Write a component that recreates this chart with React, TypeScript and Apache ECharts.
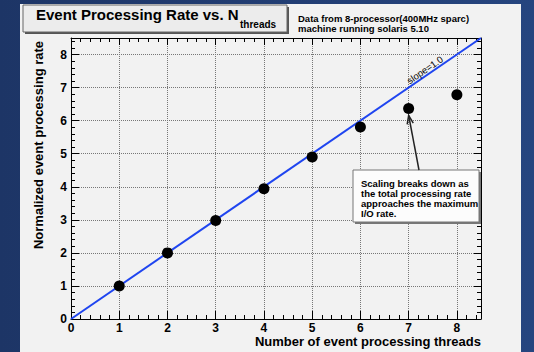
import React, { useEffect, useRef } from "react";
import * as echarts from "echarts";

const threads = [1, 2, 3, 4, 5, 6, 7, 8];
const rates = [1.0, 2.0, 2.98, 3.94, 4.9, 5.81, 6.37, 6.78];
const slopeLine = [
  [0, 0],
  [8.5, 8.5],
];
const axisMin = 0;
const axisMax = 8.5;
const majorStep = 1;
const minorStep = 0.2;
const titleMain = "Event Processing Rate vs. N";
const titleSub = "threads";
const noteLines = ["Data from 8-processor(400MHz sparc)", "machine running solaris 5.10"];
const boxLines = [
  "Scaling breaks down as",
  "the total processing rate",
  "approaches the maximum",
  "I/O rate.",
];
const xTitle = "Number of event processing threads";
const yTitle = "Normalized event processing rate";
const slopeLabel = "slope=1.0";
const annotatedThread = 7;

const FONT = "'Liberation Sans', Arial, Helvetica, sans-serif";

function makeAxis(position: string, interval: number, len: number, labels: boolean, split: boolean, line: boolean) {
  const isX = position === "top" || position === "bottom";
  return {
    type: "value",
    position,
    min: axisMin,
    max: axisMax,
    interval,
    axisLine: { show: line, onZero: false, lineStyle: { color: "#000", width: 1 } },
    axisTick: { show: true, inside: true, length: len, lineStyle: { color: "#000", width: 1 } },
    axisLabel: {
      show: labels,
      showMaxLabel: false,
      color: "#000",
      fontFamily: FONT,
      fontWeight: "bold",
      fontSize: 12,
      margin: isX ? 3 : 4,
    },
    splitLine: { show: split, lineStyle: { type: "dotted", color: "#777", width: 1 } },
  };
}

export default function App() {
  const ref = useRef<HTMLDivElement>(null);
  useEffect(() => {
    const el = ref.current!;
    const chart = echarts.init(el, null, { renderer: "svg" });
    chart.setOption({
      animation: false,
      backgroundColor: "transparent",
      grid: { left: 71, right: 53, top: 38, bottom: 33 },
      xAxis: [
        makeAxis("bottom", majorStep, 8, true, true, true),
        makeAxis("bottom", minorStep, 4, false, false, false),
        makeAxis("top", majorStep, 7, false, false, true),
        makeAxis("top", minorStep, 4, false, false, false),
      ],
      yAxis: [
        makeAxis("left", majorStep, 8, true, true, true),
        makeAxis("left", minorStep, 4, false, false, false),
        makeAxis("right", majorStep, 7, false, false, true),
        makeAxis("right", minorStep, 4, false, false, false),
      ],
      series: [
        {
          type: "line",
          data: slopeLine,
          symbol: "none",
          lineStyle: { color: "#1f45f0", width: 2 },
          z: 3,
        },
        {
          type: "scatter",
          data: threads.map((t, i) => [t, rates[i]]),
          symbol: "circle",
          symbolSize: 11,
          itemStyle: { color: "#000", opacity: 1 },
          z: 4,
        },
      ],
    });

    const px = (x: number, y: number) => chart.convertToPixel({ seriesIndex: 1 }, [x, y]) as number[];
    const idx = threads.indexOf(annotatedThread);
    const dot = px(annotatedThread, rates[idx]);
    const tip = [dot[0], dot[1] + 7];
    const tail = [419, 170];
    const dx = tip[0] - tail[0];
    const dy = tip[1] - tail[1];
    const L = Math.hypot(dx, dy);
    const ux = dx / L;
    const uy = dy / L;
    const head = (ang: number) => {
      const c = Math.cos(ang);
      const s = Math.sin(ang);
      const bx = -(ux * c - uy * s);
      const by = -(ux * s + uy * c);
      return [tip[0] + bx * 9, tip[1] + by * 9];
    };
    const h1 = head(0.35);
    const h2 = head(-0.35);

    const a = px(0, 0);
    const b = px(1, 1);
    const ang = Math.atan2(a[1] - b[1], b[0] - a[0]);
    const sp = px(7.4, 7.4);
    const nx = -Math.sin(ang);
    const ny = -Math.cos(ang);
    const slopePos = [sp[0] + nx * 5.5, sp[1] + ny * 5.5];

    const textStyle = (extra: any) => ({ fontFamily: FONT, fill: "#000", ...extra });

    chart.setOption({
      graphic: [
        { type: "rect", z: 100, shape: { x: 25, y: 7, width: 264, height: 27 }, style: { fill: "#555" } },
        {
          type: "rect",
          z: 101,
          shape: { x: 23, y: 5, width: 264, height: 27 },
          style: { fill: "#ececec", stroke: "#666", lineWidth: 1 },
        },
        {
          type: "text",
          z: 102,
          x: 36,
          y: 14,
          style: textStyle({ text: titleMain, fontSize: 15, fontWeight: "bold", textAlign: "left", textVerticalAlign: "middle" }),
        },
        {
          type: "text",
          z: 102,
          x: 240,
          y: 24,
          style: textStyle({ text: titleSub, fontSize: 10, fontWeight: "bold", textAlign: "left", textVerticalAlign: "middle" }),
        },
        ...noteLines.map((t, i) => ({
          type: "text",
          z: 102,
          x: 298,
          y: 18 + i * 10,
          style: textStyle({ text: t, fontSize: 9.5, fontWeight: "bold", textAlign: "left", textVerticalAlign: "middle" }),
        })),
        {
          type: "text",
          z: 102,
          x: 38,
          y: 145,
          rotation: Math.PI / 2,
          style: textStyle({ text: yTitle, fontSize: 13, fontWeight: "bold", textAlign: "center", textVerticalAlign: "middle" }),
        },
        {
          type: "text",
          z: 102,
          x: 481,
          y: 341,
          style: textStyle({ text: xTitle, fontSize: 13, fontWeight: "bold", textAlign: "right", textVerticalAlign: "middle" }),
        },
        {
          type: "text",
          z: 102,
          x: slopePos[0],
          y: slopePos[1],
          rotation: ang,
          style: textStyle({ text: slopeLabel, fontSize: 9.5, textAlign: "center", textVerticalAlign: "middle" }),
        },
        { type: "rect", z: 100, shape: { x: 355, y: 172, width: 126, height: 52 }, style: { fill: "#777" } },
        {
          type: "rect",
          z: 101,
          shape: { x: 353, y: 170, width: 126, height: 52 },
          style: { fill: "#fcfcfc", stroke: "#777", lineWidth: 1 },
        },
        ...boxLines.map((t, i) => ({
          type: "text",
          z: 102,
          x: 361,
          y: 183 + i * 10,
          style: textStyle({ text: t, fontSize: 9.5, fontWeight: "bold", textAlign: "left", textVerticalAlign: "middle" }),
        })),
        {
          type: "line",
          z: 102,
          shape: { x1: tail[0], y1: tail[1], x2: tip[0], y2: tip[1] },
          style: { stroke: "#222", lineWidth: 1.5 },
        },
        {
          type: "polyline",
          z: 102,
          shape: { points: [h1, tip, h2] },
          style: { stroke: "#222", lineWidth: 1.5, fill: null },
        },
      ],
    });
    return () => chart.dispose();
  }, []);

  return (
    <div style={{ position: "fixed", left: 0, top: 0, width: 534, height: 352, background: "linear-gradient(90deg, #1d3566 0%, #26457f 100%)" }}>
      <div style={{ position: "absolute", left: 20, top: 4, width: 501, height: 348, background: "#f2f2f2" }} />
      <div ref={ref} style={{ position: "absolute", left: 0, top: 0, width: 534, height: 352 }} />
    </div>
  );
}
